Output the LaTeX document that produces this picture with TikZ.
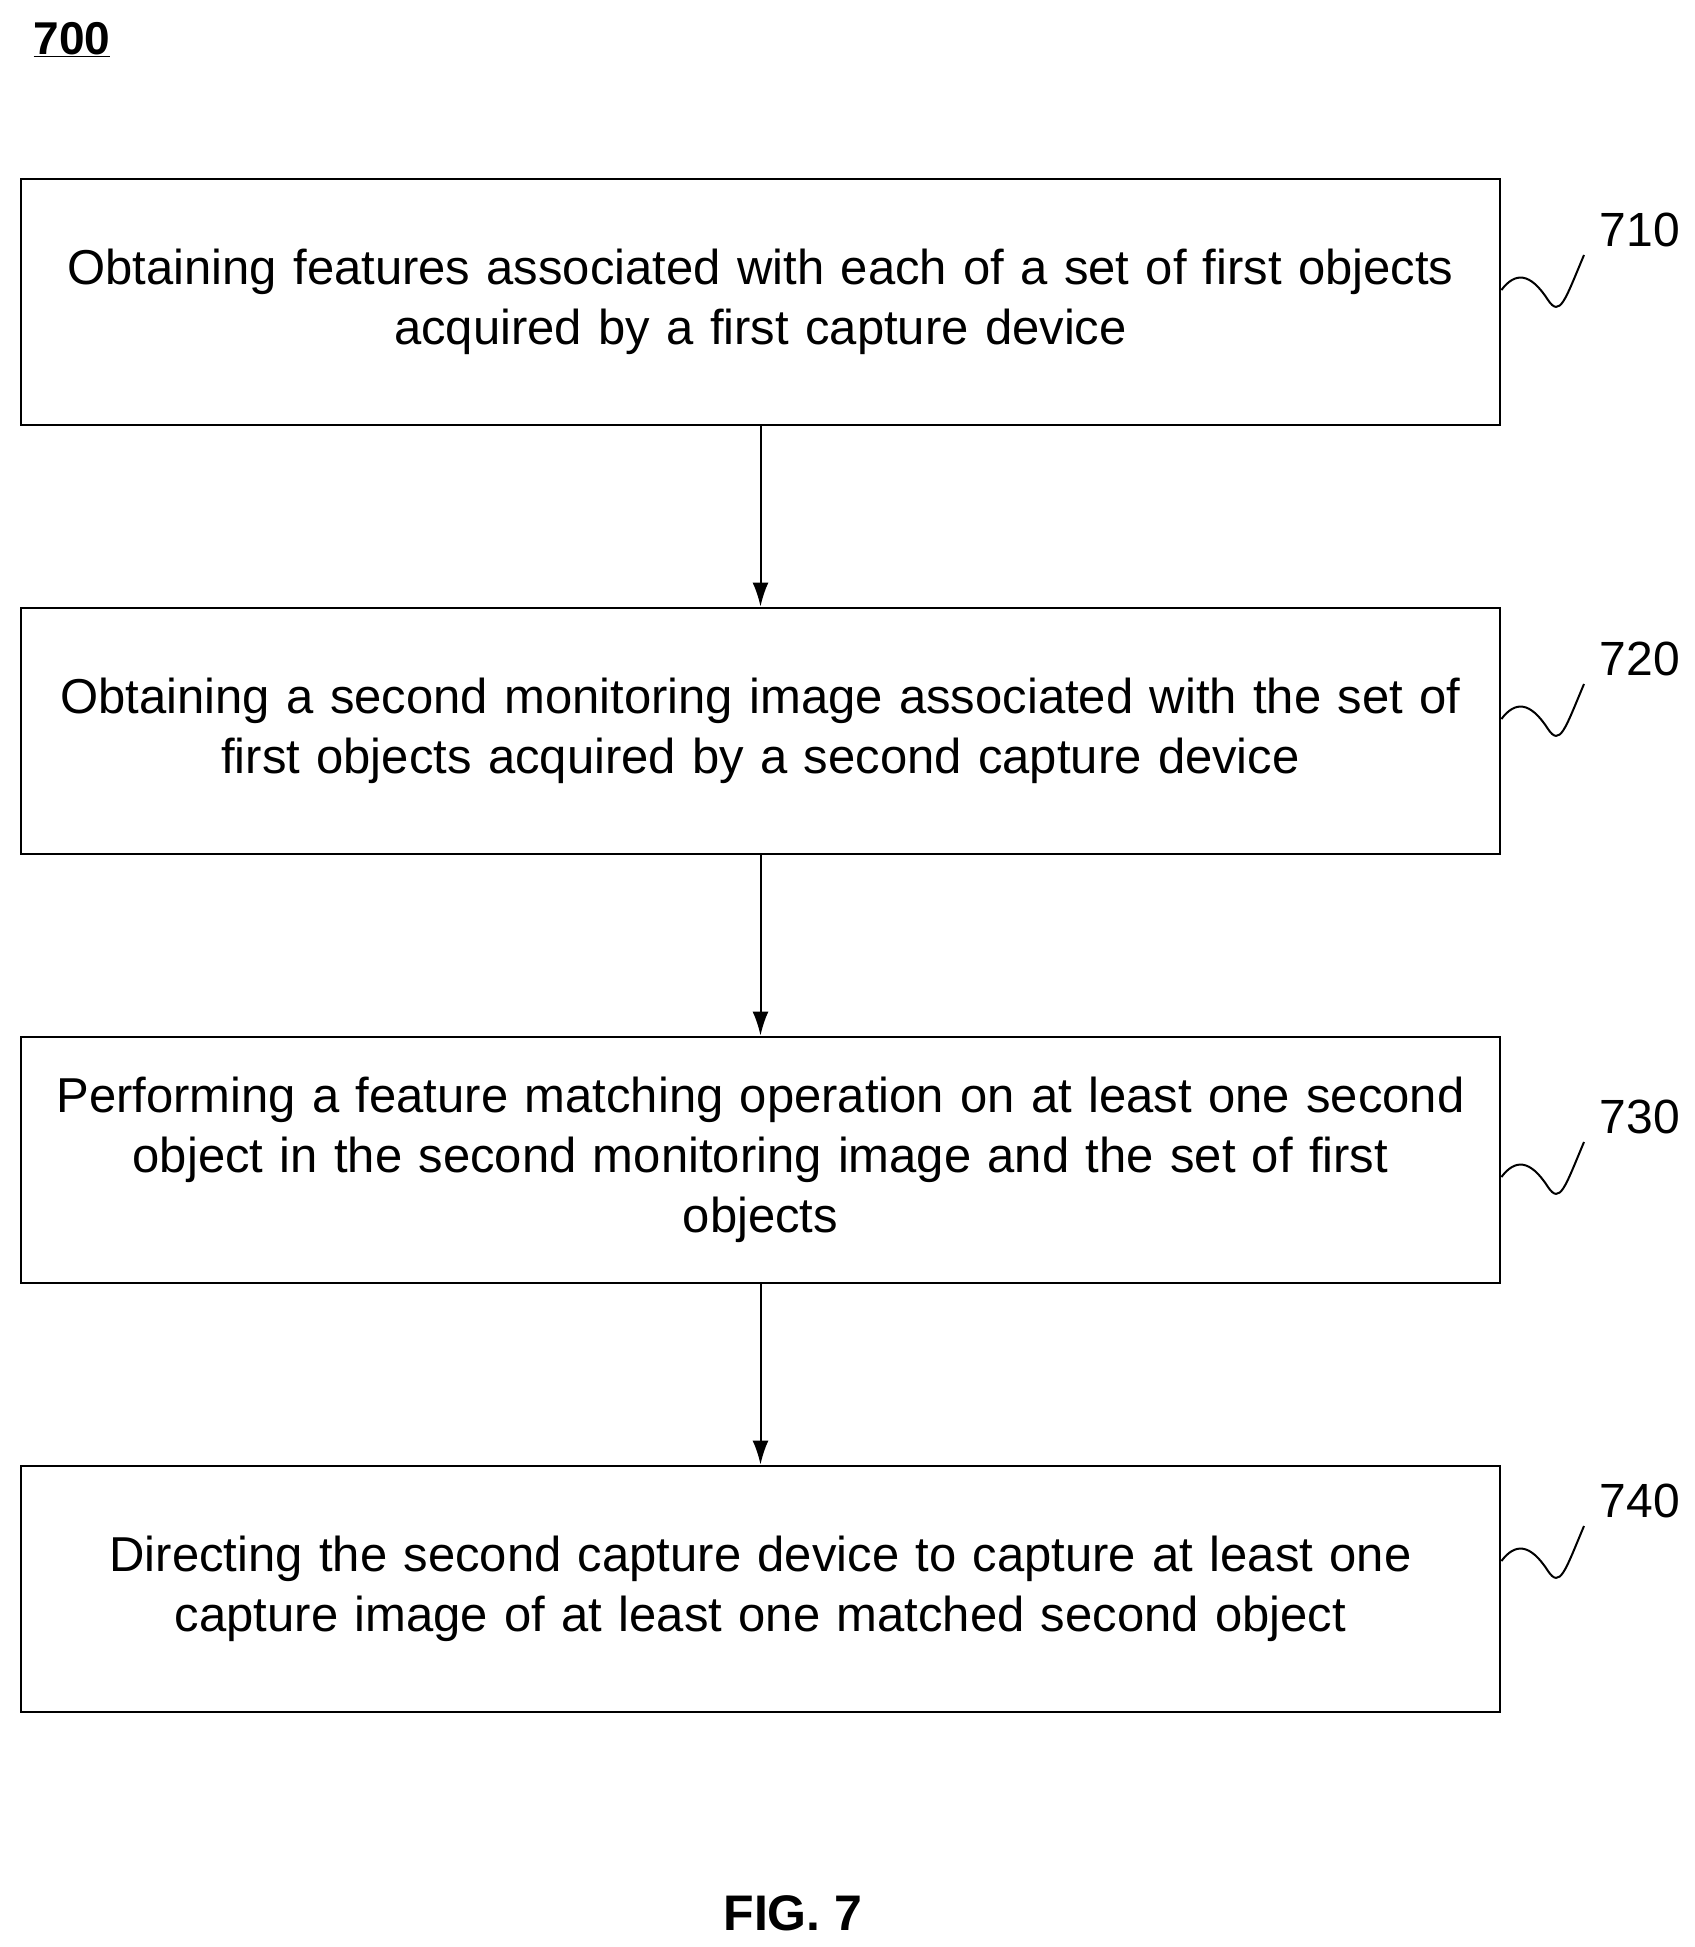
\documentclass[tikz,border=0pt]{standalone}
\usepackage{fontspec}
\setmainfont{Liberation Sans}
\usetikzlibrary{arrows.meta}
\begin{document}
\begin{tikzpicture}[x=1pt,y=-1pt,
  box/.style={draw,line width=2.8pt,minimum width=1479pt,minimum height=246pt,align=center,text width=1470pt,font=\fontsize{49}{60}\selectfont,inner sep=0pt},
  lab/.style={font=\fontsize{48}{50}\selectfont},
  arr/.style={line width=2pt,-{Latex[length=24pt,width=16pt]}}]
\useasboundingbox (0,0) rectangle (1695,1947);
\node[box] (b1) at (760.5,302) {Obtaining features associated with each of a set of first objects\\acquired by a first capture device};
\node[box] (b2) at (760.5,731) {Obtaining a second monitoring image associated with the set of\\first objects acquired by a second capture device};
\node[box] (b3) at (760.5,1160) {Performing a feature matching operation on at least one second\\object in the second monitoring image and the set of first\\objects};
\node[box] (b4) at (760.5,1589) {Directing the second capture device to capture at least one\\capture image of at least one matched second object};
\draw[arr] (b1) -- (b2);
\draw[arr] (b2) -- (b3);
\draw[arr] (b3) -- (b4);
\foreach \b/\t/\d in {b1/710/0,b2/720/429,b3/730/887,b4/740/1271}{
  \node[lab] (l\t) at (1640,230+\d) {\t};
  \coordinate (s\t) at (\b.east |- 0,290+\d);
  \draw[line width=2pt] (s\t) .. controls (1515,272+\d) and (1530,272+\d) .. (1548,300+\d) .. controls (1560,318+\d) and (1565,300+\d) .. (1584,255+\d);
}
\node[font=\bfseries\fontsize{46}{50}\selectfont] (t700) at (72,40) {\underline{700}};
\node[font=\bfseries\fontsize{50}{50}\selectfont] (fig) at (793,1913) {FIG. 7};
\end{tikzpicture}
\end{document}
